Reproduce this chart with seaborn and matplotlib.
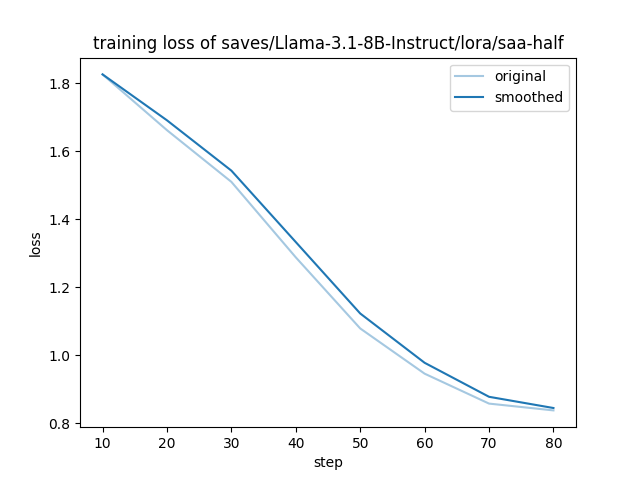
import matplotlib
matplotlib.use("Agg")
import matplotlib.pyplot as plt
import seaborn as sns
import pandas as pd

steps = [10, 20, 30, 40, 50, 60, 70, 80]
original = [1.826, 1.662, 1.510, 1.288, 1.079, 0.946, 0.858, 0.838]
smoothed = [1.826, 1.691, 1.543, 1.333, 1.123, 0.978, 0.878, 0.845]
title = "training loss of saves/Llama-3.1-8B-Instruct/lora/saa-half"

df = pd.DataFrame({"step": steps, "original": original, "smoothed": smoothed})

fig, ax = plt.subplots(figsize=(6.4, 4.8), dpi=100)
sns.lineplot(data=df, x="step", y="original", ax=ax, color="#1f77b4", alpha=0.4, label="original")
sns.lineplot(data=df, x="step", y="smoothed", ax=ax, color="#1f77b4", label="smoothed")
ax.set_title(title)
ax.set_xlabel("step")
ax.set_ylabel("loss")
ax.legend(loc="upper right")
fig.savefig("out.png", dpi=100)
